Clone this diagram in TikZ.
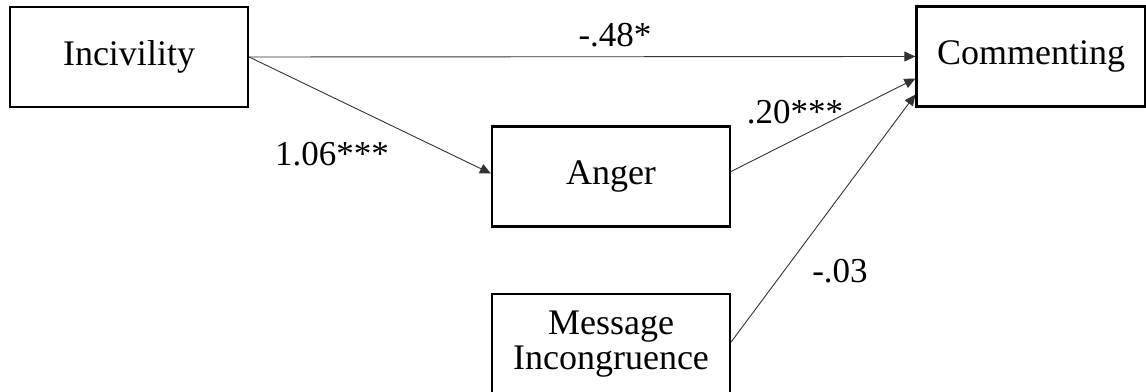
\documentclass[tikz,border=0pt]{standalone}
\usepackage{fontspec}
\setmainfont{Liberation Serif}
\usepackage{tikz}
\usetikzlibrary{arrows.meta}
\usetikzlibrary{positioning}

\tikzset{
  varbox/.style={draw, line width=2.2pt, minimum width=238pt, minimum height=100pt,
    inner sep=0pt, align=center, font=\fontsize{36}{35}\selectfont},
  path/.style={draw=black!80, line width=0.9pt, -{Triangle[length=11pt,width=10pt]}},
  coef/.style={font=\fontsize{35}{35}\selectfont, inner sep=0pt}
}

\begin{document}
\begin{tikzpicture}[x=1pt, y=1pt]
      \useasboundingbox (0, 0) rectangle (1146, 391);
      \node [varbox] (inc) at (129, 334) {Incivility};
      \node [varbox, minimum width=229pt] (com) at (1031, 334.5) {Commenting};
      \node [varbox] (ang) at (611, 214.5) {Anger};
      \node [varbox] (msg) at (611, 47) {Message\\Incongruence};

      \draw [path] (inc.east) -- (com.west);
      \draw [path] (inc.east) -- ([yshift=3pt]ang.west);
      \draw [path] ([yshift=5pt]ang.east) -- ([yshift=-22pt]com.west);
      \draw [path] ([yshift=2pt]msg.east) -- ([yshift=-38pt]com.west);

      \node [coef] (c1) at (615, 356) {-.48*};
      \node [coef] (c2) at (332, 237) {1.06***};
      \node [coef] (c3) at (795, 279) {.20***};
      \node [coef] (c4) at (840, 120) {-.03};
    \end{tikzpicture}
\end{document}
